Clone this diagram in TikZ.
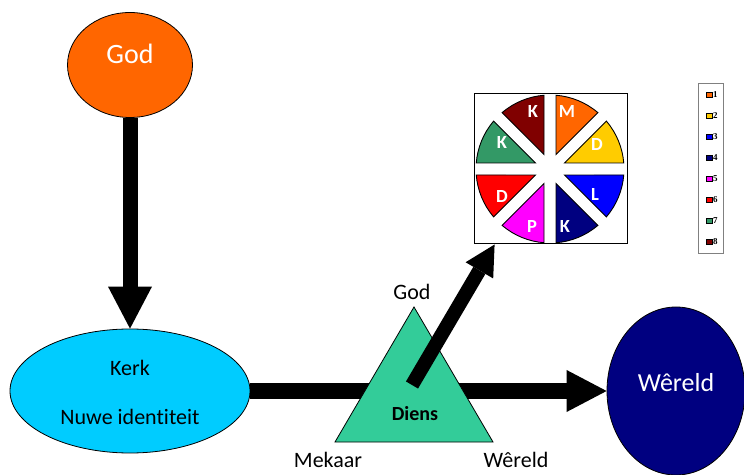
\documentclass[tikz,border=0pt]{standalone}
\usepackage{fontspec}
\setmainfont{Carlito}[Ligatures=NoCommon]
\newfontfamily\legfont{Liberation Serif}
\usetikzlibrary{shapes.geometric,arrows.meta,calc}
\definecolor{cOrange}{HTML}{FF6600}
\definecolor{cCyan}{HTML}{00CCFF}
\definecolor{cNavy}{HTML}{000080}
\definecolor{cTri}{HTML}{33CC99}
\definecolor{cGold}{HTML}{FFCC00}
\definecolor{cBlue}{HTML}{0000FF}
\definecolor{cMag}{HTML}{FF00FF}
\definecolor{cRed}{HTML}{FF0000}
\definecolor{cGreen}{HTML}{339966}
\definecolor{cDRed}{HTML}{800000}
\begin{document}
\begin{tikzpicture}[x=1pt,y=1pt,
  blob/.style={ellipse,draw=black,line width=0.8pt,inner sep=0pt},
  txt/.style={inner sep=0pt,anchor=base},
  bigarrow/.style={line width=15pt,-{Triangle[length=42pt,width=44pt,line width=0pt]}},
  piel/.style={inner sep=0pt,text=white,font=\fontsize{18.5}{18.5}\selectfont\bfseries},
  legsq/.style={draw=black,line width=0.6pt,minimum size=5.5pt,inner sep=0pt},
  legnum/.style={inner sep=0pt,anchor=west,font=\legfont\fontsize{9}{9}\selectfont\bfseries}
]
\useasboundingbox (0,0) rectangle (744,474);
\clip (0,0) rectangle (744,474);

% main nodes
\node[blob,fill=cOrange,minimum width=125pt,minimum height=105pt] (god) at (130,409) {};
\node[blob,fill=cCyan,minimum width=240pt,minimum height=124pt] (kerk) at (130,83) {};
\node[blob,fill=cNavy,minimum width=138pt,minimum height=168pt] (wereld) at (676,83) {};

\node[txt,text=white,font=\fontsize{28}{28}\selectfont] (godt) at (130,410) {God};
\node[txt,font=\fontsize{22}{22}\selectfont] (kerkt) at (130,98) {Kerk};
\node[txt,font=\fontsize{22}{22}\selectfont] (nuwe) at (130,50) {Nuwe identiteit};
\node[txt,text=white,font=\fontsize{26}{26}\selectfont] (wereldt) at (676,82) {Wêreld};

% arrows
\draw[bigarrow] (god.south) -- (kerk.north);
\draw[bigarrow,-{Triangle[length=40pt,width=42pt,line width=0pt]}] (kerk.east) -- (wereld.west);

% triangle
\coordinate (tA) at (414,167);
\coordinate (tL) at (335,32);
\coordinate (tR) at (493,32);
\filldraw[fill=cTri,draw=black,line width=0.8pt] (tA) -- (tR) -- (tL) -- cycle;
\node[txt,font=\fontsize{22}{22}\selectfont] (tgod) at (412,174) {God};
\node[txt,font=\fontsize{20}{20}\selectfont\bfseries] (diens) at (415,54) {Diens};
\node[txt,font=\fontsize{22}{22}\selectfont] (mekaar) at (328,7) {Mekaar};
\node[txt,font=\fontsize{22}{22}\selectfont] (twereld) at (516,7) {Wêreld};

% pie box
\node[draw=black,fill=white,line width=1pt,minimum width=153pt,minimum height=150pt,inner sep=0pt] (piebox) at (550.5,305) {};
\begin{scope}[shift={(550,305)}]
\foreach \a/\c in {45/cOrange,0/cGold,-45/cBlue,-90/cNavy,-135/cMag,180/cRed,135/cGreen,90/cDRed}{
  \filldraw[fill=\c,draw=black,line width=0.9pt,line join=miter]
    (\a+22.5:15.7pt) -- (\a+4.65:74pt) arc[start angle=\a+4.65,end angle=\a+40.35,radius=74pt] -- cycle;
}
\end{scope}
\node[piel] (pM) at (567,362) {M};
\node[piel] (pK1) at (533,362) {K};
\node[piel] (pK2) at (502,331) {K};
\node[piel] (pD1) at (597,329) {D};
\node[piel] (pD2) at (502,277) {D};
\node[piel] (pL) at (595,279) {L};
\node[piel] (pP) at (532,247) {P};
\node[piel] (pK3) at (565,247) {K};

% diagonal arrow
\coordinate (dtail) at (412,89);
\draw[line width=14pt,-{Triangle[length=30pt,width=32pt,line width=0pt]}] (dtail) -- ($(piebox.south west)!0.137!(piebox.south east)$);

% legend
\node[draw=black!50,line width=0.6pt,minimum width=25pt,minimum height=170pt,inner sep=0pt] (legend) at (710.5,306) {};
\foreach \i/\c in {1/cOrange,2/cGold,3/cBlue,4/cNavy,5/cMag,6/cRed,7/cGreen,8/cDRed}{
  \node[legsq,fill=\c] (sq\i) at (709.5,400-21*\i) {};
  \node[legnum] (ln\i) at (712.8,400-21*\i) {\i};
}
\end{tikzpicture}
\end{document}
